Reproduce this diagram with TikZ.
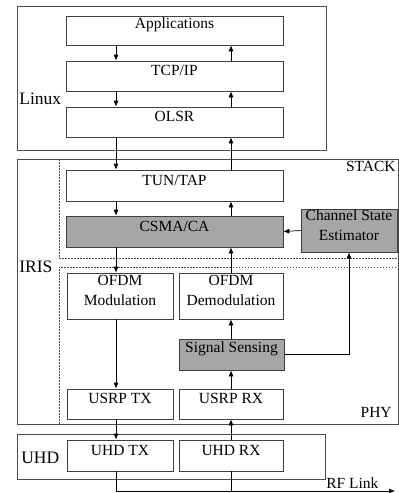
\documentclass[tikz,border=0pt]{standalone}
\usepackage{fontspec}
\setmainfont{Liberation Serif}
\usetikzlibrary{arrows}
\usetikzlibrary{arrows.meta}
\usetikzlibrary{calc}
\usetikzlibrary{fit}
\newcommand{\drawBox}[5]{
	\node[layerbox, fill=#5, fit=(#2)(#3)] (#1) {#4};
}
\newcommand{\drawFrame}[4]{
	\node[#4, fit=(#2)(#3)] (#1) {};
}
\newcommand{\drawLinkDown}[3]{
	\draw[->] (#1.south -| #3) -- (#2.north -| #3);
}
\newcommand{\drawLinkUp}[3]{
	\draw[->] (#1.north -| #3) -- (#2.south -| #3);
}

\begin{document}
\begin{tikzpicture}[x=1pt, y=-1pt, >={Latex[length=6pt,width=5pt]}, line width=0.7pt,
		layerbox/.style={draw=black!75, inner sep=0pt, align=center, font=\fontsize{15.5}{20}\selectfont},
		frame/.style={draw=black!70, inner sep=0pt},
		dashframe/.style={draw=black!70, dash pattern=on 1.5pt off 1.5pt, inner sep=0pt},
		grouplabel/.style={font=\fontsize{17.5}{20}\selectfont, inner sep=1pt},
		sidelabel/.style={font=\fontsize{15.5}{18}\selectfont, inner sep=1pt}]
		\useasboundingbox (0,0) rectangle (399,493);

		% frames
		\coordinate (Linux_L) at (17,6);
		\coordinate (Linux_R) at (326,150);
		\coordinate (Iris_L) at (17,159);
		\coordinate (Iris_R) at (398,424);
		\coordinate (Stack_L) at (59,159);
		\coordinate (Stack_R) at (398,258);
		\coordinate (Phy_L) at (59,267);
		\coordinate (Phy_R) at (398,424);
		\coordinate (Uhd_L) at (17,434);
		\coordinate (Uhd_R) at (325,479);

		\drawFrame{Linux}{Linux_L}{Linux_R}{frame}
		\drawFrame{Iris}{Iris_L}{Iris_R}{frame}
		\drawFrame{Stack}{Stack_L}{Stack_R}{dashframe}
		\drawFrame{Phy}{Phy_L}{Phy_R}{dashframe}
		\drawFrame{Uhd}{Uhd_L}{Uhd_R}{frame}

		\node[grouplabel, anchor=west] (LinuxLabel) at (18,99) {Linux};
		\node[grouplabel, anchor=west] (IrisLabel) at (18,267) {IRIS};
		\node[grouplabel, anchor=west] (UhdLabel) at (20,458) {UHD};
		\node[sidelabel, anchor=north east] (StackLabel) at (397,160) {STACK};
		\node[sidelabel, anchor=south east] (PhyLabel) at (393,419) {PHY};

		% boxes
		\coordinate (App_L) at (66,16);
		\coordinate (App_R) at (283,45);
		\coordinate (Tcp_L) at (66,61);
		\coordinate (Tcp_R) at (283,91);
		\coordinate (Olsr_L) at (66,107);
		\coordinate (Olsr_R) at (283,137);
		\coordinate (Tun_L) at (66,170);
		\coordinate (Tun_R) at (283,201);
		\coordinate (Csma_L) at (66,216);
		\coordinate (Csma_R) at (283,247);
		\coordinate (Cse_L) at (301,209);
		\coordinate (Cse_R) at (397,252);
		\coordinate (Mod_L) at (67,273);
		\coordinate (Mod_R) at (173,319);
		\coordinate (Demod_L) at (179,273);
		\coordinate (Demod_R) at (283,319);
		\coordinate (Sense_L) at (179,339);
		\coordinate (Sense_R) at (284,370);
		\coordinate (UsrpTx_L) at (67,389);
		\coordinate (UsrpTx_R) at (173,419);
		\coordinate (UsrpRx_L) at (179,389);
		\coordinate (UsrpRx_R) at (283,419);
		\coordinate (UhdTx_L) at (67,440);
		\coordinate (UhdTx_R) at (173,471);
		\coordinate (UhdRx_L) at (179,440);
		\coordinate (UhdRx_R) at (283,471);

		\drawBox{App}{App_L}{App_R}{Applications}{white}
		\drawBox{Tcp}{Tcp_L}{Tcp_R}{TCP/IP}{white}
		\drawBox{Olsr}{Olsr_L}{Olsr_R}{OLSR}{white}
		\drawBox{Tun}{Tun_L}{Tun_R}{TUN/TAP}{white}
		\drawBox{Csma}{Csma_L}{Csma_R}{CSMA/CA}{black!35}
		\drawBox{Cse}{Cse_L}{Cse_R}{Channel State\\Estimator}{black!35}
		\drawBox{Mod}{Mod_L}{Mod_R}{OFDM\\Modulation}{white}
		\drawBox{Demod}{Demod_L}{Demod_R}{OFDM\\Demodulation}{white}
		\drawBox{Sense}{Sense_L}{Sense_R}{Signal Sensing}{black!35}
		\drawBox{UsrpTx}{UsrpTx_L}{UsrpTx_R}{USRP TX}{white}
		\drawBox{UsrpRx}{UsrpRx_L}{UsrpRx_R}{USRP RX}{white}
		\drawBox{UhdTx}{UhdTx_L}{UhdTx_R}{UHD TX}{white}
		\drawBox{UhdRx}{UhdRx_L}{UhdRx_R}{UHD RX}{white}

		% links
		\coordinate (ColTx) at (116,0);
		\coordinate (ColRx) at (231,0);
		\coordinate (RfJoin) at (231,491);
		\coordinate (RfEnd) at (395,491);

		\drawLinkDown{App}{Tcp}{ColTx}
		\drawLinkUp{Tcp}{App}{ColRx}
		\drawLinkDown{Tcp}{Olsr}{ColTx}
		\drawLinkUp{Olsr}{Tcp}{ColRx}
		\drawLinkDown{Olsr}{Tun}{ColTx}
		\drawLinkUp{Tun}{Olsr}{ColRx}
		\drawLinkDown{Tun}{Csma}{ColTx}
		\drawLinkUp{Csma}{Tun}{ColRx}
		\drawLinkDown{Csma}{Mod}{ColTx}
		\drawLinkUp{Demod}{Csma}{ColRx}
		\drawLinkDown{Mod}{UsrpTx}{ColTx}
		\drawLinkUp{Sense}{Demod}{ColRx}
		\drawLinkUp{UsrpRx}{Sense}{ColRx}
		\drawLinkDown{UsrpTx}{UhdTx}{ColTx}
		\drawLinkUp{UhdRx}{UsrpRx}{ColRx}
		\draw[->] (Cse.west) -- (Csma.east);
		\draw[->] (Sense.east) -| (Cse.south);
		\draw[->] (UhdTx.south -| ColTx) |- (RfEnd);
		\draw (UhdRx.south -| ColRx) -- (RfJoin);
		\node[sidelabel, anchor=base west] (RfLabel) at (325,488) {RF Link};

	\end{tikzpicture}
\end{document}
